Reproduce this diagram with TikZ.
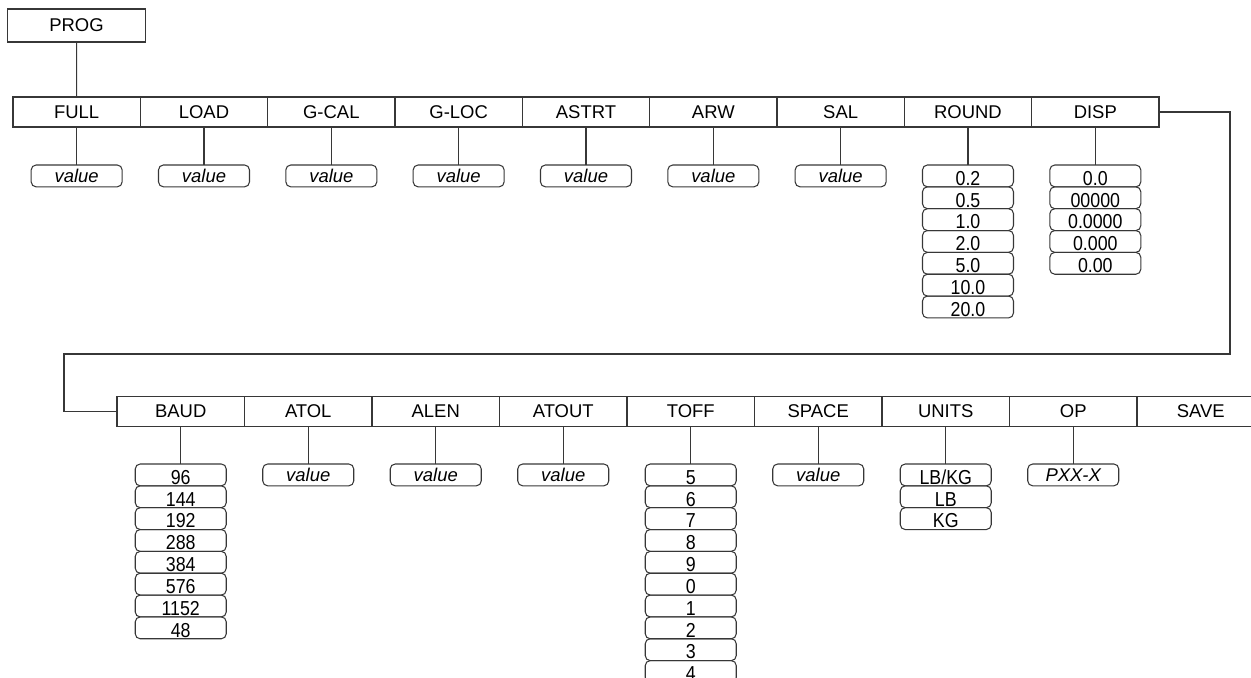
\documentclass[tikz,border=0pt]{standalone}
\usepackage{fontspec}
\setmainfont{Liberation Sans}
\newfontfamily\narrowfont[FakeStretch=0.88]{Liberation Sans}
\usetikzlibrary{positioning}
\definecolor{ink}{RGB}{55,55,55}
\tikzset{
  wire/.style={draw=ink,line width=0.6pt},
  menu/.style={draw=ink,line width=0.6pt,outer sep=0pt,inner sep=0pt,
    minimum width=2.548cm,minimum height=6mm,font=\fontsize{10.5}{12}\selectfont},
  head/.style={menu,minimum width=2.76cm,minimum height=6.6mm},
  choice/.style={draw=ink,line width=0.6pt,outer sep=0pt,inner sep=0pt,
    rounded corners=2.8pt,minimum width=1.82cm,minimum height=4.37mm},
  entry/.style={choice,font=\fontsize{10.5}{12}\selectfont\itshape},
  item/.style={choice,font=\narrowfont\fontsize{11.5}{12}\selectfont,
    text height=3.7mm,text depth=0mm},
}

\begin{document}
\begin{tikzpicture}[x=0.02cm,y=-0.02cm]
    \useasboundingbox (0,0) rectangle (1251,677);
    \clip (0,0) rectangle (1251,677);

    % first menu row
    \node[head] (prog) at (76.5,25.5) {PROG};
    \foreach \l [count=\i] in {FULL,LOAD,G-CAL,G-LOC,ASTRT,ARW,SAL,ROUND,DISP}
      \node[menu] (m\i) at ({13+127.33*(\i-0.5)},112) {\l};
    \draw[wire] (prog) -- (m1);
    \foreach \i in {1,...,7} {
      \node[entry,below=7.6mm of m\i] (v\i) {value};
      \draw[wire] (m\i) -- (v\i);
    }
    \foreach \v [count=\k] in {0.2,0.5,1.0,2.0,5.0,10.0,20.0}
      \node[item,anchor=north] (r\k) at ([yshift={-7.6mm-4.37mm*(\k-1)}]m8.south) {\v};
    \draw[wire] (m8) -- (r1);
    \foreach \v [count=\k] in {0.0,00000,0.0000,0.000,0.00}
      \node[item,anchor=north] (d\k) at ([yshift={-7.6mm-4.37mm*(\k-1)}]m9.south) {\v};
    \draw[wire] (m9) -- (d1);

    % second menu row
    \foreach \l [count=\i] in {BAUD,ATOL,ALEN,ATOUT,TOFF,SPACE,UNITS,OP,SAVE}
      \node[menu,minimum width=2.55cm] (n\i) at ({117+127.5*(\i-0.5)},411.5) {\l};
    \coordinate (edge) at (1230,112);
    \coordinate (bend) at (64,354);
    \draw[wire] (m9.east) -- (edge) |- (bend) |- (n1.west);
    \foreach \i in {2,3,4,6} {
      \node[entry,below=7.5mm of n\i] (w\i) {value};
      \draw[wire] (n\i) -- (w\i);
    }
    \node[entry,below=7.5mm of n8] (w8) {PXX-X};
    \draw[wire] (n8) -- (w8);
    \foreach \v [count=\k] in {96,144,192,288,384,576,1152,48}
      \node[item,anchor=north] (b\k) at ([yshift={-7.5mm-4.37mm*(\k-1)}]n1.south) {\v};
    \draw[wire] (n1) -- (b1);
    \foreach \v [count=\k] in {5,6,7,8,9,0,1,2,3,4}
      \node[item,anchor=north] (t\k) at ([yshift={-7.5mm-4.37mm*(\k-1)}]n5.south) {\v};
    \draw[wire] (n5) -- (t1);
    \foreach \v [count=\k] in {LB/KG,LB,KG}
      \node[item,anchor=north] (u\k) at ([yshift={-7.5mm-4.37mm*(\k-1)}]n7.south) {\v};
    \draw[wire] (n7) -- (u1);
  \end{tikzpicture}
\end{document}
